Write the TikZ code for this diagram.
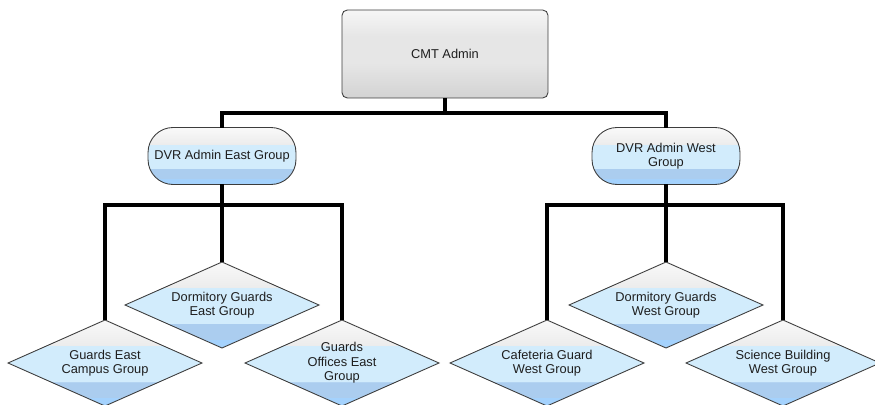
\documentclass[tikz,border=0pt]{standalone}
\usepackage{fontspec}
\setsansfont{Liberation Sans}
\usetikzlibrary{shapes.geometric}
\definecolor{bandTop}{HTML}{F9F9F9}
\definecolor{bandGray}{HTML}{ECECEC}
\definecolor{bandLight}{HTML}{D2ECFC}
\definecolor{bandMid}{HTML}{ABCDEF}
\definecolor{bandBot}{HTML}{A4D2FD}
\definecolor{boxTop}{HTML}{F6F6F6}
\definecolor{boxMid}{HTML}{E6E6E6}
\definecolor{boxBot}{HTML}{D3D3D3}
\definecolor{edgeInk}{HTML}{3C3C3C}
\definecolor{labelInk}{HTML}{1E1E1E}
\pgfdeclareverticalshading{bandblue}{100bp}{color(0bp)=(bandBot); color(30bp)=(bandBot);
  color(30.1bp)=(bandMid); color(39bp)=(bandMid); color(39.1bp)=(bandLight);
  color(60bp)=(bandLight); color(60.1bp)=(bandGray); color(75bp)=(bandTop); color(100bp)=(bandTop)}
\pgfdeclareverticalshading{bandgray}{100bp}{color(0bp)=(boxBot); color(25bp)=(boxBot);
  color(45bp)=(boxMid); color(60bp)=(boxMid); color(75bp)=(boxTop); color(100bp)=(boxTop)}
\tikzset{
  admin/.style={draw=edgeInk, line width=0.5pt, rounded corners=3pt, shade, shading=bandgray,
                minimum width=4.12cm, minimum height=1.76cm, outer sep=0pt},
  group/.style={draw=edgeInk, line width=0.5pt, rounded corners=0.5cm, shade, shading=bandblue,
                minimum width=2.96cm, minimum height=1.14cm, inner sep=1pt, outer sep=0pt, align=center},
  guard/.style={diamond, aspect=2.25, draw=edgeInk, line width=0.5pt, shade, shading=bandblue,
                minimum width=3.88cm, minimum height=1.72cm, inner sep=0pt, outer sep=0pt, align=center},
  conn/.style={line width=2pt, black},
  every node/.style={font=\sffamily\fontsize{7.3}{8.3}\selectfont, text=labelInk},
}
\begin{document}
\begin{tikzpicture}[x=0.02cm,y=-0.02cm]
\useasboundingbox (0,0) rectangle (875,405);
\clip (0,0) rectangle (875,405);
\node[admin] (cmt) at (445,54) {CMT Admin};
\node[group] (dvre) at (222,156) {DVR Admin East Group};
\node[group] (dvrw) at (666,156) {DVR Admin West\\Group};
\node[guard] (gec) at (105,363) {Guards East\\Campus Group};
\node[guard] (dge) at (222,305) {Dormitory Guards\\East Group};
\node[guard] (goe) at (342,363) {Guards\\Offices East\\Group};
\node[guard] (cgw) at (547,363) {Cafeteria Guard\\West Group};
\node[guard] (dgw) at (666,305) {Dormitory Guards\\West Group};
\node[guard] (sbw) at (783,363) {Science Building\\West Group};
\coordinate (topbus) at (445,113);
\coordinate (eastbus) at (222,205);
\coordinate (westbus) at (666,205);
\draw[conn] (cmt.south) -- (topbus);
\draw[conn] (dvre.north) |- (topbus) -| (dvrw.north);
\draw[conn] (dvre.south) -- (eastbus);
\draw[conn] (gec.north) |- (eastbus) -| (goe.north);
\draw[conn] (dge.north) -- (eastbus);
\draw[conn] (dvrw.south) -- (westbus);
\draw[conn] (cgw.north) |- (westbus) -| (sbw.north);
\draw[conn] (dgw.north) -- (westbus);
\end{tikzpicture}
\end{document}
